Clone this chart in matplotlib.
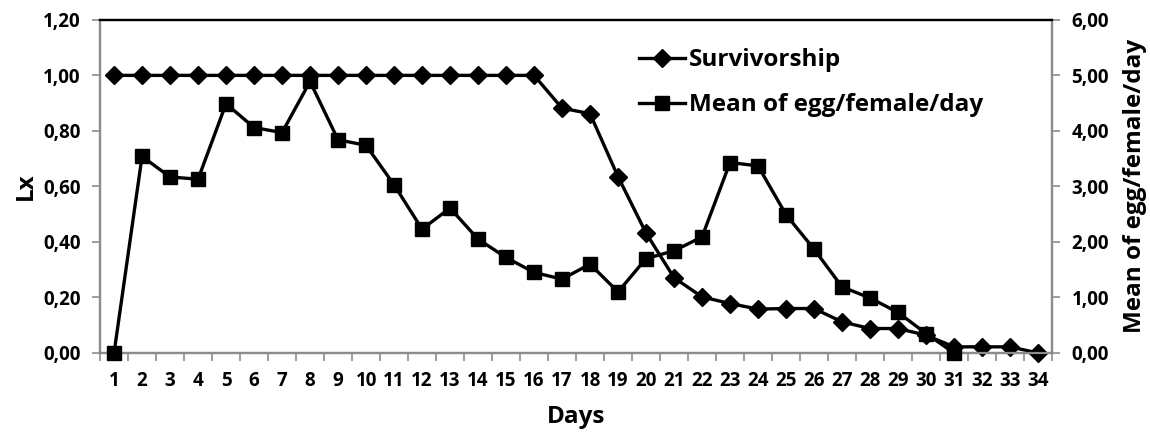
import matplotlib
matplotlib.use("Agg")
import matplotlib.pyplot as plt
from matplotlib.ticker import FixedLocator, FuncFormatter, NullFormatter
from matplotlib.lines import Line2D

plt.rcParams["font.family"] = ["Open Sans", "DejaVu Sans"]
plt.rcParams["font.weight"] = "bold"

days = list(range(1, 35))
survivorship = [1.0] * 16 + [0.882, 0.862, 0.635, 0.432, 0.271, 0.202, 0.178, 0.158,
                              0.160, 0.160, 0.112, 0.088, 0.088, 0.064, 0.022, 0.022,
                              0.022, 0.0]
egg_days = list(range(1, 32))
egg_mean = [0.0, 3.54, 3.17, 3.13, 4.49, 4.06, 3.97, 4.89, 3.84, 3.74, 3.03, 2.23,
            2.61, 2.05, 1.72, 1.45, 1.33, 1.60, 1.10, 1.70, 1.84, 2.09, 3.43, 3.37,
            2.49, 1.87, 1.19, 0.99, 0.73, 0.35, 0.0]

GREY = "#8c8c8c"
LW = 2.4
TICK_FS = 13.5
LABEL_FS = 17.5

fig = plt.figure(figsize=(11.5, 4.32), dpi=100)
ax = fig.add_axes([0.087, 0.183, 0.8278, 0.771])
ax2 = ax.twinx()

ax.plot(days, survivorship, color="black", lw=LW, marker="D", markersize=9.5,
        clip_on=False, zorder=3)
ax2.plot(egg_days, egg_mean, color="black", lw=LW, marker="s", markersize=10,
         clip_on=False, zorder=3)

comma = FuncFormatter(lambda v, p: "{:.2f}".format(v).replace(".", ","))

ax.set_xlim(0.5, 34.5)
ax.set_ylim(0, 1.2)
ax2.set_ylim(0, 6)
ax.set_yticks([0, 0.2, 0.4, 0.6, 0.8, 1.0, 1.2])
ax2.set_yticks([0, 1, 2, 3, 4, 5, 6])
ax.yaxis.set_major_formatter(comma)
ax2.yaxis.set_major_formatter(comma)

# category ticks at the boundaries, labels at the centres
ax.xaxis.set_major_locator(FixedLocator([d + 0.5 for d in range(0, 35)]))
ax.xaxis.set_major_formatter(NullFormatter())
ax.xaxis.set_minor_locator(FixedLocator(days))
ax.set_xticklabels([str(d) for d in days], minor=True)
ax.tick_params(axis="x", which="major", length=6, color=GREY, width=1.2)
ax.tick_params(axis="x", which="minor", length=0, pad=13, labelsize=TICK_FS)
ax.tick_params(axis="y", length=6, color=GREY, width=1.2, labelsize=TICK_FS, pad=8)
ax2.tick_params(axis="y", length=6, color=GREY, width=1.2, labelsize=TICK_FS, pad=8)

for a in (ax, ax2):
    for side in ("left", "right", "bottom"):
        a.spines[side].set_color(GREY)
        a.spines[side].set_linewidth(1.6)
    a.spines["top"].set_color("black")
    a.spines["top"].set_linewidth(1.6)

ax.set_xlabel("Days", fontsize=LABEL_FS, fontweight="bold", labelpad=10)
ax.set_ylabel("Lx", fontsize=LABEL_FS, fontweight="bold", labelpad=4)
ax2.set_ylabel("Mean of egg/female/day", fontsize=LABEL_FS, fontweight="bold", labelpad=10)

handles = [
    Line2D([], [], color="black", lw=LW, marker="D", markersize=9.5),
    Line2D([], [], color="black", lw=LW, marker="s", markersize=10),
]
leg = ax2.legend(handles, ["Survivorship", "Mean of egg/female/day"],
                 loc="upper left", bbox_to_anchor=(0.543, 0.98), frameon=False,
                 prop={"size": LABEL_FS, "weight": "bold"}, handlelength=1.9,
                 handletextpad=0.15, labelspacing=0.85)

fig.savefig("out.png", dpi=100)
